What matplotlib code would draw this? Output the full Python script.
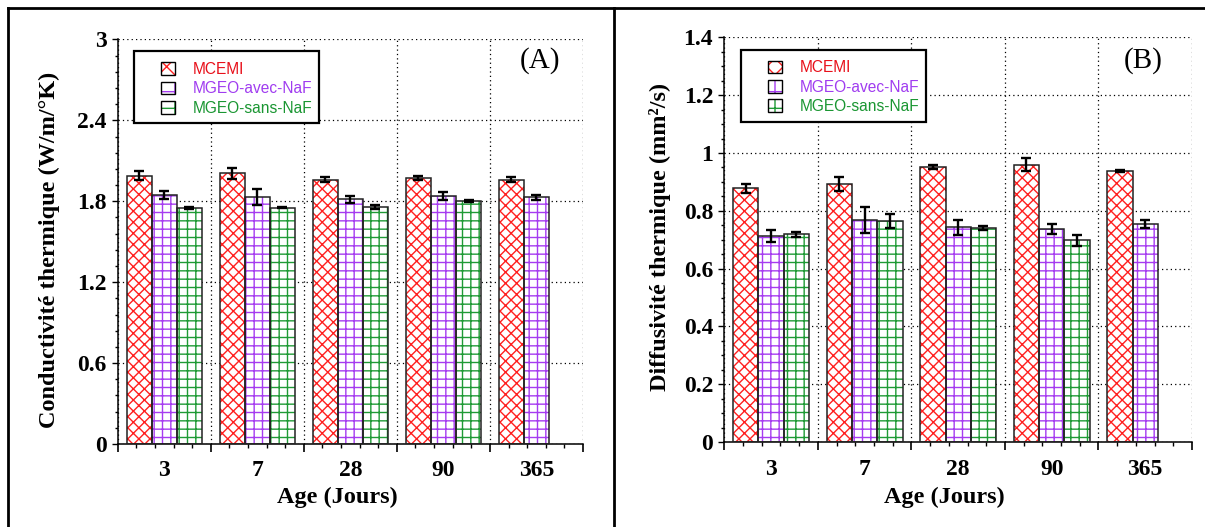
import numpy as np
import matplotlib
matplotlib.use('Agg')
import matplotlib.pyplot as plt
from matplotlib.patches import Patch, Rectangle
from matplotlib.lines import Line2D
from matplotlib.legend_handler import HandlerTuple
from matplotlib.ticker import MultipleLocator, FormatStrFormatter, NullFormatter

# ---------------- data ----------------
ages = ['3', '7', '28', '90', '365']
series_names = ['MCEMI', 'MGEO-avec-NaF', 'MGEO-sans-NaF']

cond_mcemi = [1.990, 2.006, 1.961, 1.969, 1.961]
cond_mcemi_err = [0.035, 0.042, 0.020, 0.015, 0.020]
cond_avec = [1.846, 1.832, 1.814, 1.836, 1.829]
cond_avec_err = [0.030, 0.058, 0.025, 0.030, 0.020]
cond_sans = [1.749, 1.752, 1.757, 1.801, np.nan]
cond_sans_err = [0.005, 0.003, 0.012, 0.005, np.nan]

diff_mcemi = [0.878, 0.893, 0.952, 0.960, 0.938]
diff_mcemi_err = [0.016, 0.023, 0.008, 0.023, 0.002]
diff_avec = [0.714, 0.770, 0.743, 0.736, 0.755]
diff_avec_err = [0.021, 0.045, 0.027, 0.017, 0.015]
diff_sans = [0.719, 0.765, 0.740, 0.698, np.nan]
diff_sans_err = [0.008, 0.023, 0.008, 0.019, np.nan]

# ---------------- style ----------------
plt.rcParams['font.family'] = ['Liberation Serif', 'DejaVu Serif']
plt.rcParams['hatch.linewidth'] = 1.0

hatch_colors = ['#ff2020', '#a63cf0', '#1f9a35']
text_colors = ['#e8101a', '#a03cf0', '#1a9632']
hatches = ['xxx', '++', '++']
SERIF = 'Liberation Serif'
TICK_FS = 17
LAB_FS = 17.5

fig = plt.figure(figsize=(12.05, 5.27), dpi=100)
axA = fig.add_axes([0.0977, 0.1575, 0.3861, 0.7677])
axB = fig.add_axes([0.6011, 0.1613, 0.3881, 0.7676])


def panel(ax, series, errs, ymax, major, minor, ylabel, tag, ylab_xy, xlab_xy,
          tick_y, tag_xy, box, leg_anchor):
    x = np.arange(len(ages)) + 0.5
    w = 0.27
    offsets = [-w, 0.0, w]
    for vals, ee, off, col, h in zip(series, errs, offsets, hatch_colors, hatches):
        vals = np.asarray(vals, float)
        ee = np.asarray(ee, float)
        m = ~np.isnan(vals)
        ax.bar(x[m] + off, vals[m], w, color='white', edgecolor=col, hatch=h,
               linewidth=0, zorder=2)
        ax.bar(x[m] + off, vals[m], w, facecolor='none', edgecolor='#222222',
               linewidth=1.1, zorder=3)
        ax.errorbar(x[m] + off, vals[m], yerr=ee[m], fmt='none', ecolor='black',
                    elinewidth=1.7, capsize=3.5, capthick=1.7, zorder=4)

    ax.set_xlim(0, len(ages))
    ax.set_ylim(0, ymax)
    ax.xaxis.set_major_locator(MultipleLocator(1))
    ax.xaxis.set_minor_locator(MultipleLocator(0.2))
    ax.xaxis.set_major_formatter(NullFormatter())
    ax.yaxis.set_major_locator(MultipleLocator(major))
    ax.yaxis.set_minor_locator(MultipleLocator(minor))
    ax.yaxis.set_major_formatter(FormatStrFormatter('%g'))
    for s in ['top', 'right']:
        ax.spines[s].set_visible(False)
    for s in ['left', 'bottom']:
        ax.spines[s].set_linewidth(1.1)
    ax.grid(True, which='major', linestyle=(0, (1, 2.5)), color='black', linewidth=0.9)
    ax.set_axisbelow(True)
    ax.tick_params(axis='x', which='major', length=6, width=1.2, direction='out')
    ax.tick_params(axis='x', which='minor', length=3, width=1.0, direction='out')
    ax.tick_params(axis='y', which='major', length=4, width=1.0, pad=4,
                   direction='out', labelsize=TICK_FS)
    ax.tick_params(axis='y', which='minor', length=2.5, width=1.0, direction='out')
    for lab in ax.get_yticklabels():
        lab.set_fontweight('bold')
        lab.set_family(SERIF)

    for i, a in enumerate(ages):
        ax.text(i + 0.5, tick_y, a, transform=ax.get_xaxis_transform(),
                ha='center', va='center', fontsize=TICK_FS, fontweight='bold', family=SERIF)

    ax.set_ylabel(ylabel, fontsize=LAB_FS, fontweight='bold', family=SERIF)
    ax.yaxis.set_label_coords(*ylab_xy)
    ax.set_xlabel('Age (Jours)', fontsize=LAB_FS, fontweight='bold', family=SERIF)
    ax.xaxis.set_label_coords(*xlab_xy)

    ax.text(tag_xy[0], tag_xy[1], tag, transform=ax.transAxes, ha='center',
            va='center', fontsize=21, family=SERIF)

    # legend box
    rect = Rectangle((box[0], box[1]), box[2], box[3], transform=ax.transAxes,
                     facecolor='white', edgecolor='black', linewidth=1.6, zorder=5)
    ax.add_patch(rect)
    handles = [(Patch(facecolor='white', edgecolor=c, hatch=h, linewidth=0),
                Patch(facecolor='none', edgecolor='black', linewidth=1.0))
               for c, h in zip(hatch_colors, ['xx', '+', '+'])]
    leg = ax.legend(handles, series_names, handler_map={tuple: HandlerTuple(ndivide=1)},
                    prop={'family': 'Liberation Sans', 'size': 11.2}, frameon=False,
                    loc='center left', bbox_to_anchor=leg_anchor, borderpad=0,
                    borderaxespad=0, handlelength=0.86, handleheight=0.86,
                    handletextpad=1.15, labelspacing=0.28)
    leg.set_zorder(6)
    for t, c in zip(leg.get_texts(), text_colors):
        t.set_color(c)


panel(axA, [cond_mcemi, cond_avec, cond_sans],
      [cond_mcemi_err, cond_avec_err, cond_sans_err],
      3.0, 0.6, 0.12, 'Conductivité thermique (W/m/°K)', '(A)',
      (-0.124, 0.479), (0.473, -0.106), -0.0657, (0.908, 0.948),
      (0.035, 0.793, 0.397, 0.178), (0.094, 0.878))

panel(axB, [diff_mcemi, diff_avec, diff_sans],
      [diff_mcemi_err, diff_avec_err, diff_sans_err],
      1.4, 0.2, 0.05, 'Diffusivité thermique (mm²/s)', '(B)',
      (-0.114, 0.508), (0.470, -0.1105), -0.0675, (0.895, 0.943),
      (0.0357, 0.792, 0.395, 0.177), (0.094, 0.877))

# outer frame lines
x0 = 8 / 1205
ytop = 1 - 8 / 527
xdiv = 614 / 1205
for xs, ys in [([x0, 1.0], [ytop, ytop]), ([x0, x0], [0.0, ytop]), ([xdiv, xdiv], [0.0, ytop])]:
    fig.add_artist(Line2D(xs, ys, transform=fig.transFigure, color='black',
                          linewidth=2.0, solid_capstyle='projecting'))

fig.savefig('out.png', dpi=100)
